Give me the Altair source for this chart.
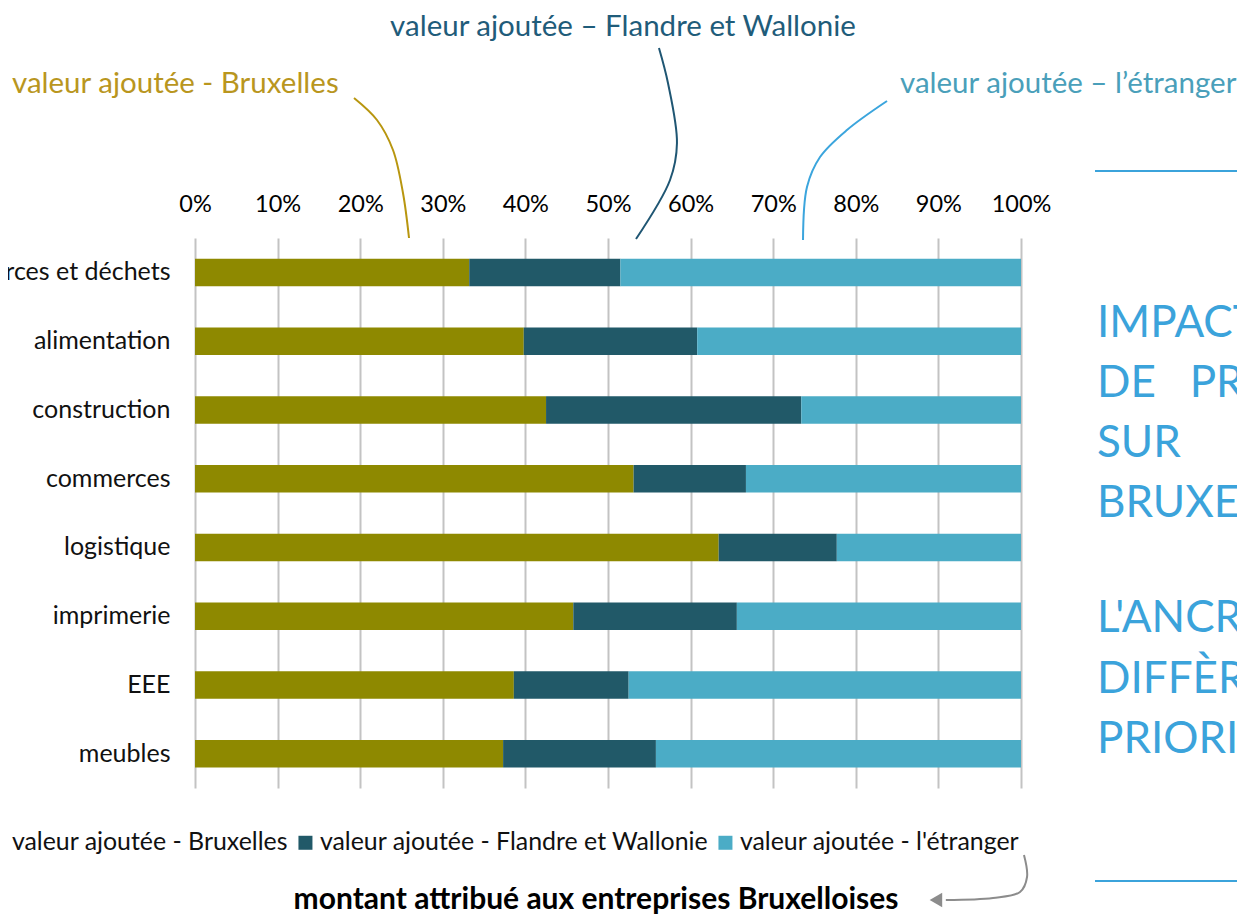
import altair as alt
import pandas as pd

# ---------------- data ----------------
categories = ["ressources et déchets", "alimentation", "construction", "commerces",
              "logistique", "imprimerie\u00a0", "EEE", "meubles"]
series_names = ["valeur ajoutée - Bruxelles",
                "valeur ajoutée - Flandre et Wallonie",
                "valeur ajoutée - l'étranger"]
bruxelles = [33.2, 39.8, 42.5, 53.1, 63.4, 45.8, 38.6, 37.3]
flandre_wallonie = [18.3, 21.0, 30.9, 13.6, 14.3, 19.8, 13.9, 18.5]
etranger = [48.5, 39.2, 26.6, 33.3, 22.3, 34.4, 47.5, 44.2]
series_colors = ["#8E8900", "#215968", "#4BACC6"]
x_ticks = [0, 10, 20, 30, 40, 50, 60, 70, 80, 90, 100]

# annotation connectors (x in % of axis, y in px from top of plot)
gold_x = [19.25, 22.03, 23.97, 25.18, 25.91]
gold_y = [-140, -118, -88, -45, 0]
dark_x = [56.17, 57.26, 58.35, 57.51, 53.39]
dark_y = [-190, -155, -95, -58, 1]
light_x = [83.78, 78.93, 75.67, 74.09, 73.61]
light_y = [-137, -108, -81, -51, 2]
arrow_x = [100.36, 100.73, 99.88, 96.61, 90.9]
arrow_y = [617, 639, 654, 660, 662]
arrow_head_x = [89.7]
arrow_head_y = [662]

title_bxl = "valeur ajoutée - Bruxelles"
title_fw = "valeur ajoutée – Flandre et Wallonie"
title_etr = "valeur ajoutée – l’étranger"
right_block1 = ["IMPACTS DES", "DE\u00a0\u00a0\u00a0PROJETS",
                "SUR\u00a0\u00a0\u00a0\u00a0\u00a0\u00a0\u00a0\u00a0\u00a0\u00a0L'ÉCONOMIE", "BRUXELLOISE"]
right_block2 = ["L'ANCRAGE", "DIFFÈRE SELON", "PRIORITÉS"]
bottom_text = "montant attribué aux entreprises Bruxelloises"

FONT = "Lato"
W, H = 826, 550

rows = []
for i, cat in enumerate(categories):
    for j, vals in enumerate([bruxelles, flandre_wallonie, etranger]):
        rows.append({"category": cat, "series": series_names[j], "idx": j, "value": vals[i]})
df = pd.DataFrame(rows)


def xs():
    return alt.Scale(domain=[0, 100], nice=False, zero=False)


bars = alt.Chart(df).mark_bar().encode(
    x=alt.X("value:Q", stack="zero", scale=xs(),
            axis=alt.Axis(orient="top", values=x_ticks, labelExpr="datum.value + '%'",
                          title=None, domain=False, ticks=False, grid=True,
                          gridColor="#C3C3C3", gridWidth=2, labelFontSize=23.5,
                          labelColor="#000000", labelPadding=22, labelFont=FONT,
                          labelOverlap=False, labelFlush=False, labelBound=False)),
    y=alt.Y("category:N", sort=categories,
            scale=alt.Scale(paddingInner=0.6, paddingOuter=0.3),
            axis=alt.Axis(title=None, domain=False, ticks=False, labelFontSize=25,
                          labelColor="#111111", labelPadding=25, labelLimit=500,
                          labelFont=FONT)),
    color=alt.Color("series:N", scale=alt.Scale(domain=series_names, range=series_colors),
                    legend=alt.Legend(orient="none", direction="horizontal",
                                      legendX=-210, legendY=592, title=None,
                                      symbolType="square", symbolSize=196,
                                      symbolStrokeWidth=0, labelFontSize=24.9,
                                      labelColor="#111111", labelOffset=2,
                                      columnPadding=4, padding=0, labelFont=FONT,
                                      labelLimit=600)),
    order=alt.Order("idx:Q"),
)


def yc():
    return alt.Scale(domain=[0, H], range=[0, H], nice=False, zero=False)


def connector(xv, yv, color, width=2):
    d = pd.DataFrame({"cx": xv, "cy": yv, "k": list(range(len(xv)))})
    return alt.Chart(d).mark_line(interpolate="catmull-rom", strokeWidth=width,
                                  color=color).encode(
        x=alt.X("cx:Q", scale=xs(), axis=None),
        y=alt.Y("cy:Q", scale=yc(), axis=None),
        order="k:Q",
    )


def label(text, x, y, color, size, align="left", weight="normal", baseline="middle",
          line_height=None):
    kw = {}
    if line_height is not None:
        kw["lineHeight"] = line_height
    return alt.Chart(pd.DataFrame({"t": [text]})).mark_text(
        align=align, baseline=baseline, font=FONT, fontSize=size, color=color,
        fontWeight=weight, **kw).encode(
        x=alt.value(x), y=alt.value(y), text="t:N")


head = alt.Chart(pd.DataFrame({"cx": arrow_head_x, "cy": arrow_head_y})).mark_point(
    shape="triangle-left", filled=True, size=210, color="#8C8C8C", opacity=1).encode(
    x=alt.X("cx:Q", scale=xs(), axis=None),
    y=alt.Y("cy:Q", scale=yc(), axis=None),
)

rule_top = alt.Chart(pd.DataFrame({"a": [0]})).mark_rule(color="#3BA3DB", strokeWidth=2).encode(
    x=alt.value(900), x2=alt.value(1060), y=alt.value(-67))
rule_bot = alt.Chart(pd.DataFrame({"a": [0]})).mark_rule(color="#3BA3DB", strokeWidth=2).encode(
    x=alt.value(900), x2=alt.value(1060), y=alt.value(643))

layers = [
    bars,
    connector(gold_x, gold_y, "#B8960F"),
    connector(dark_x, dark_y, "#1F5673"),
    connector(light_x, light_y, "#3BA5DD"),
    connector(arrow_x, arrow_y, "#8C8C8C"),
    head,
    label(title_bxl, -183, -154, "#B9961E", 29.5),
    label(title_fw, 428, -211, "#1F5C7A", 29.5, align="center"),
    label(title_etr, 705, -154, "#4A9FBA", 29.5),
    label(right_block1, 902, 99, "#3BA3DB", 44, baseline="alphabetic", line_height=60),
    label(right_block2, 902, 394, "#3BA3DB", 44, baseline="alphabetic", line_height=60.5),
    label(bottom_text, 401, 662, "#000000", 30, align="center", weight="bold"),
    rule_top,
    rule_bot,
]

chart = alt.layer(*layers).resolve_scale(x="independent", y="independent").properties(
    width=W, height=H,
    autosize=alt.AutoSizeParams(type="none"),
    padding={"left": 187, "top": 230, "right": 216, "bottom": 128},
).configure(font=FONT).configure_view(stroke=None)

chart.save("out.html", embed_options={"renderer": "svg", "actions": False})
